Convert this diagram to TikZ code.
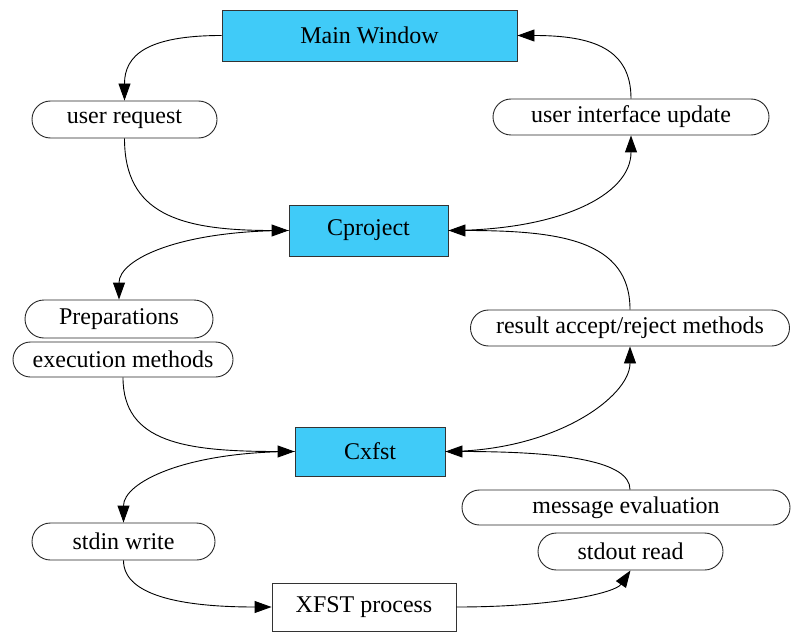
\documentclass[tikz,border=0pt]{standalone}
\usepackage{fontspec}
\setmainfont{Liberation Serif}
\usetikzlibrary{arrows.meta,shapes.misc}
\definecolor{boxblue}{RGB}{64,203,248}
\begin{document}
\begin{tikzpicture}[x=1pt,y=-1pt,
  font=\fontsize{24}{28}\selectfont,
  bluebox/.style={draw=black!80, line width=0.9pt, fill=boxblue, inner sep=0pt},
  whitebox/.style={draw=black!80, line width=0.9pt, fill=white, inner sep=0pt},
  oval/.style={draw=black!85, line width=0.9pt, rounded rectangle, inner sep=0pt},
  conn/.style={line width=0.9pt, -{Triangle[length=17pt,width=12pt]}}]
\useasboundingbox (0,0) rectangle (791,631);
% nodes
\node[bluebox, minimum width=295pt, minimum height=51pt] (mw) at (369.5,35.5) {Main Window};
\node[oval, minimum width=185pt, minimum height=37pt] (ur) at (124.5,119.5) {user request};
\node[oval, minimum width=276pt, minimum height=36pt] (uiu) at (631,117) {user interface update};
\node[bluebox, minimum width=159pt, minimum height=51pt] (cp) at (368.5,230.5) {Cproject};
\node[oval, minimum width=188pt, minimum height=38pt] (prep) at (119,319) {Preparations};
\node[oval, minimum width=220pt, minimum height=35pt] (exec) at (123,359.5) {execution methods};
\node[oval, minimum width=319pt, minimum height=36pt] (rarm) at (630,328) {result accept/reject methods};
\node[bluebox, minimum width=150pt, minimum height=49pt] (cx) at (370,451.5) {Cxfst};
\node[oval, minimum width=328pt, minimum height=35pt] (me) at (626,507.5) {message evaluation};
\node[oval, minimum width=185pt, minimum height=37pt] (so) at (630.5,551.5) {stdout read};
\node[oval, minimum width=183pt, minimum height=37pt] (sw) at (123.5,541.5) {stdin write};
\node[whitebox, minimum width=184pt, minimum height=48pt] (xp) at (364,607) {XFST process};
% connectors
\draw[conn] (mw.west) .. controls +(-75,0) and +(0,-45) .. (ur.north);
\draw[conn] (ur.south) .. controls +(0,75) and +(-110,0) .. (cp.west);
\draw[conn] (cp.west) .. controls +(-110,0) and +(0,-40) .. (prep.north);
\draw[conn] (cp.east) .. controls +(110,0) and +(0,60) .. (uiu.south);
\draw[conn] (uiu.north) .. controls +(0,-50) and +(75,0) .. (mw.east);
\draw[conn] (rarm.north) .. controls +(0,-70) and +(110,0) .. (cp.east);
\draw[conn] (exec.south) .. controls +(0,65) and +(-110,0) .. (cx.west);
\draw[conn] (cx.west) .. controls +(-110,0) and +(0,-40) .. (sw.north);
\draw[conn] (cx.east) .. controls +(110,0) and +(0,50) .. (rarm.south);
\draw[conn] ([xshift=4pt]me.north) .. controls +(0,-28) and +(120,0) .. (cx.east);
\draw[conn] (sw.south) .. controls +(0,38) and +(-80,0) .. (xp.west);
\draw[conn] (xp.east) .. controls +(100,0) and +(-15,22) .. (so.south);
\end{tikzpicture}
\end{document}
